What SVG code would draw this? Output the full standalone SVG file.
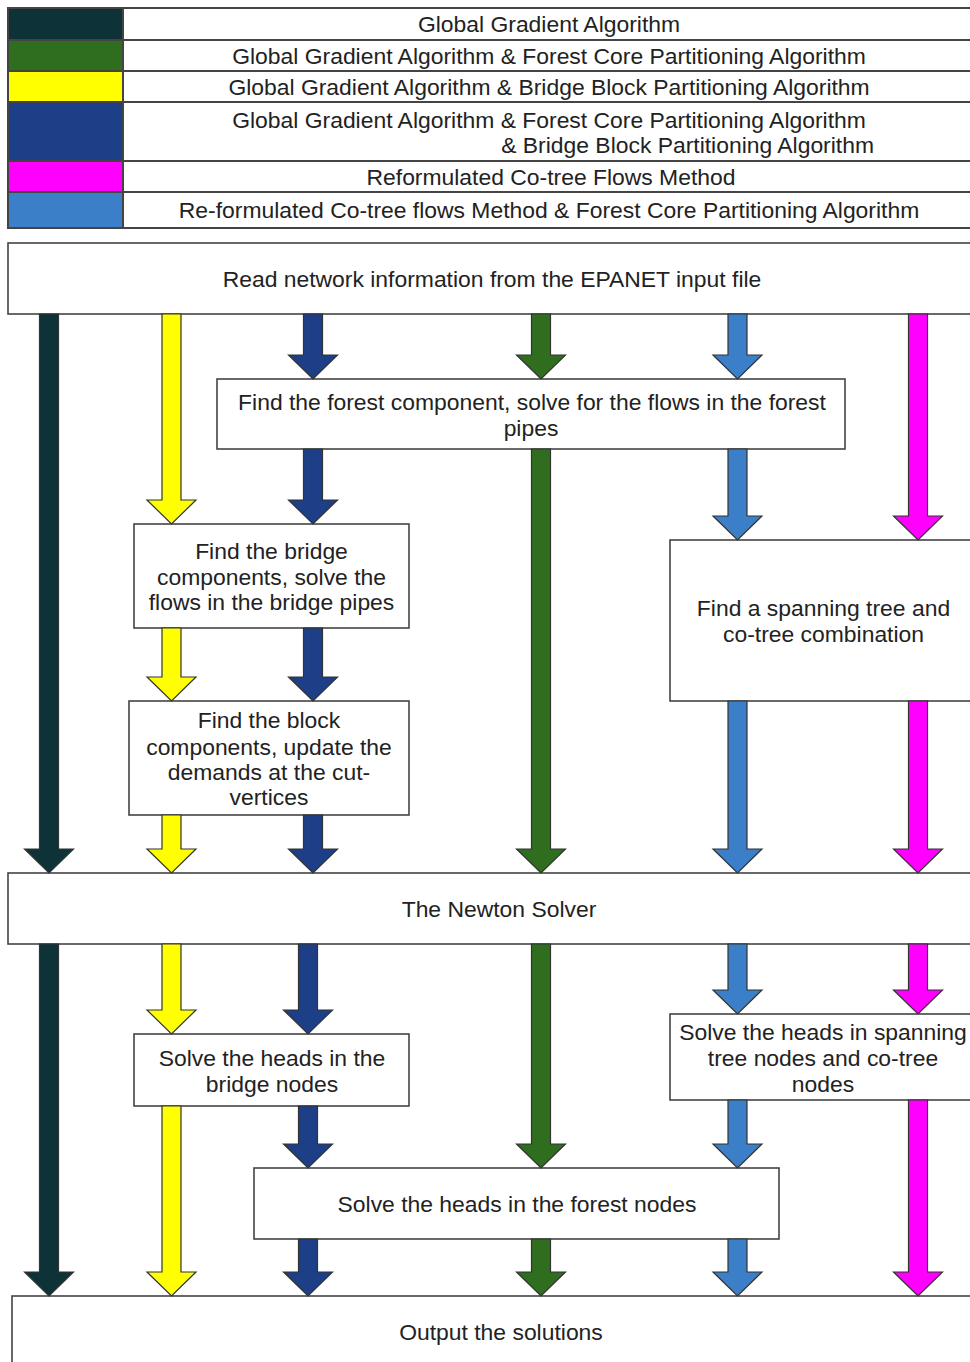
<svg xmlns="http://www.w3.org/2000/svg" width="970" height="1362" viewBox="0 0 970 1362">
<style>
.box{fill:#fff;stroke:#444;stroke-width:1.6}
.leg{fill:#fff;stroke:#444;stroke-width:2}
.sw{stroke:#444;stroke-width:2}
text{font-family:"Liberation Sans",Arial,sans-serif;font-size:22.9px;fill:#222;text-anchor:middle}
.arr{stroke:#333;stroke-width:1.2;stroke-linejoin:miter}
.teal{fill:#0d3338}.yel{fill:#ffff00}.dblue{fill:#1d3f87}.green{fill:#2e6e1e}.lblue{fill:#3b7fc8}.mag{fill:#ff00ff}
</style>
<rect width="970" height="1362" fill="#fff"/>
<g id="legend">
<rect class="leg" x="8" y="8" width="980" height="220"/>
<rect class="sw teal" x="8" y="8" width="115" height="32"/>
<rect class="sw green" x="8" y="40" width="115" height="31"/>
<rect class="sw yel" x="8" y="71" width="115" height="31"/>
<rect class="sw dblue" x="8" y="102" width="115" height="59"/>
<rect class="sw mag" x="8" y="161" width="115" height="31"/>
<rect class="sw lblue" x="8" y="192" width="115" height="36"/>
<rect class="leg" x="123" y="8" width="870" height="32"/>
<rect class="leg" x="123" y="40" width="870" height="31"/>
<rect class="leg" x="123" y="71" width="870" height="31"/>
<rect class="leg" x="123" y="102" width="870" height="59"/>
<rect class="leg" x="123" y="161" width="870" height="31"/>
<rect class="leg" x="123" y="192" width="870" height="36"/>
<text x="549" y="32">Global Gradient Algorithm</text>
<text x="549" y="64">Global Gradient Algorithm &amp; Forest Core Partitioning Algorithm</text>
<text x="549" y="95">Global Gradient Algorithm &amp; Bridge Block Partitioning Algorithm</text>
<text x="549" y="128">Global Gradient Algorithm &amp; Forest Core Partitioning Algorithm</text>
<text x="874" y="153" style="text-anchor:end">&amp; Bridge Block Partitioning Algorithm</text>
<text x="551" y="185">Reformulated Co-tree Flows Method</text>
<text x="549" y="218">Re-formulated Co-tree flows Method &amp; Forest Core Partitioning Algorithm</text>
</g>
<g id="read">
<rect class="box" x="8" y="243" width="980" height="71"/>
<text x="492" y="287">Read network information from the EPANET input file</text>
</g>
<g id="forest">
<rect class="box" x="217" y="379" width="628" height="70"/>
<text x="532" y="410">Find the forest component, solve for the flows in the forest</text>
<text x="531" y="436">pipes</text>
</g>
<g id="bridge">
<rect class="box" x="134" y="524" width="275" height="104"/>
<text x="271.5" y="559">Find the bridge</text>
<text x="271.5" y="585">components, solve the</text>
<text x="271.5" y="610">flows in the bridge pipes</text>
</g>
<g id="block">
<rect class="box" x="129" y="701" width="280" height="114"/>
<text x="269" y="728">Find the block</text>
<text x="269" y="755">components, update the</text>
<text x="269" y="780">demands at the cut-</text>
<text x="269" y="805">vertices</text>
</g>
<g id="spanning">
<rect class="box" x="670" y="540" width="320" height="161"/>
<text x="823.5" y="616">Find a spanning tree and</text>
<text x="823.5" y="642">co-tree combination</text>
</g>
<g id="newton">
<rect class="box" x="8" y="873" width="990" height="71"/>
<text x="499" y="917">The Newton Solver</text>
</g>
<g id="bridgeheads">
<rect class="box" x="134" y="1034" width="275" height="72"/>
<text x="272" y="1066">Solve the heads in the</text>
<text x="272" y="1092">bridge nodes</text>
</g>
<g id="spanheads">
<rect class="box" x="670" y="1014" width="320" height="86"/>
<text x="823" y="1040">Solve the heads in spanning</text>
<text x="823" y="1066">tree nodes and co-tree</text>
<text x="823" y="1092">nodes</text>
</g>
<g id="forestheads">
<rect class="box" x="254" y="1168" width="525" height="71"/>
<text x="517" y="1212">Solve the heads in the forest nodes</text>
</g>
<g id="output">
<rect class="box" x="12" y="1296" width="990" height="80"/>
<text x="501" y="1340">Output the solutions</text>
</g>
<g id="connectors">
<path class="arr teal" d="M39.5 314H58.5V849H73.5L49 873L24.5 849H39.5Z"/>
<path class="arr teal" d="M39.5 944H58.5V1272H73.5L49 1296L24.5 1272H39.5Z"/>
<path class="arr yel" d="M162 314H181V500H196L171.5 524L147 500H162Z"/>
<path class="arr yel" d="M162 628H181V677H196L171.5 701L147 677H162Z"/>
<path class="arr yel" d="M162 815H181V849H196L171.5 873L147 849H162Z"/>
<path class="arr yel" d="M162 944H181V1010H196L171.5 1034L147 1010H162Z"/>
<path class="arr yel" d="M162 1106H181V1272H196L171.5 1296L147 1272H162Z"/>
<path class="arr dblue" d="M303.5 314H322.5V355H337.5L313 379L288.5 355H303.5Z"/>
<path class="arr dblue" d="M303.5 449H322.5V500H337.5L313 524L288.5 500H303.5Z"/>
<path class="arr dblue" d="M303.5 628H322.5V677H337.5L313 701L288.5 677H303.5Z"/>
<path class="arr dblue" d="M303.5 815H322.5V849H337.5L313 873L288.5 849H303.5Z"/>
<path class="arr dblue" d="M298.5 944H317.5V1010H332.5L308 1034L283.5 1010H298.5Z"/>
<path class="arr dblue" d="M298.5 1106H317.5V1144H332.5L308 1168L283.5 1144H298.5Z"/>
<path class="arr dblue" d="M298.5 1239H317.5V1272H332.5L308 1296L283.5 1272H298.5Z"/>
<path class="arr green" d="M531.5 314H550.5V355H565.5L541 379L516.5 355H531.5Z"/>
<path class="arr green" d="M531.5 449H550.5V849H565.5L541 873L516.5 849H531.5Z"/>
<path class="arr green" d="M531.5 944H550.5V1144H565.5L541 1168L516.5 1144H531.5Z"/>
<path class="arr green" d="M531.5 1239H550.5V1272H565.5L541 1296L516.5 1272H531.5Z"/>
<path class="arr lblue" d="M728 314H747V355H762L737.5 379L713 355H728Z"/>
<path class="arr lblue" d="M728 449H747V516H762L737.5 540L713 516H728Z"/>
<path class="arr lblue" d="M728 701H747V849H762L737.5 873L713 849H728Z"/>
<path class="arr lblue" d="M728 944H747V990H762L737.5 1014L713 990H728Z"/>
<path class="arr lblue" d="M728 1100H747V1144H762L737.5 1168L713 1144H728Z"/>
<path class="arr lblue" d="M728 1239H747V1272H762L737.5 1296L713 1272H728Z"/>
<path class="arr mag" d="M908.5 314H927.5V516H942.5L918 540L893.5 516H908.5Z"/>
<path class="arr mag" d="M908.5 701H927.5V849H942.5L918 873L893.5 849H908.5Z"/>
<path class="arr mag" d="M908.5 944H927.5V990H942.5L918 1014L893.5 990H908.5Z"/>
<path class="arr mag" d="M908.5 1100H927.5V1272H942.5L918 1296L893.5 1272H908.5Z"/>
</g>
</svg>
